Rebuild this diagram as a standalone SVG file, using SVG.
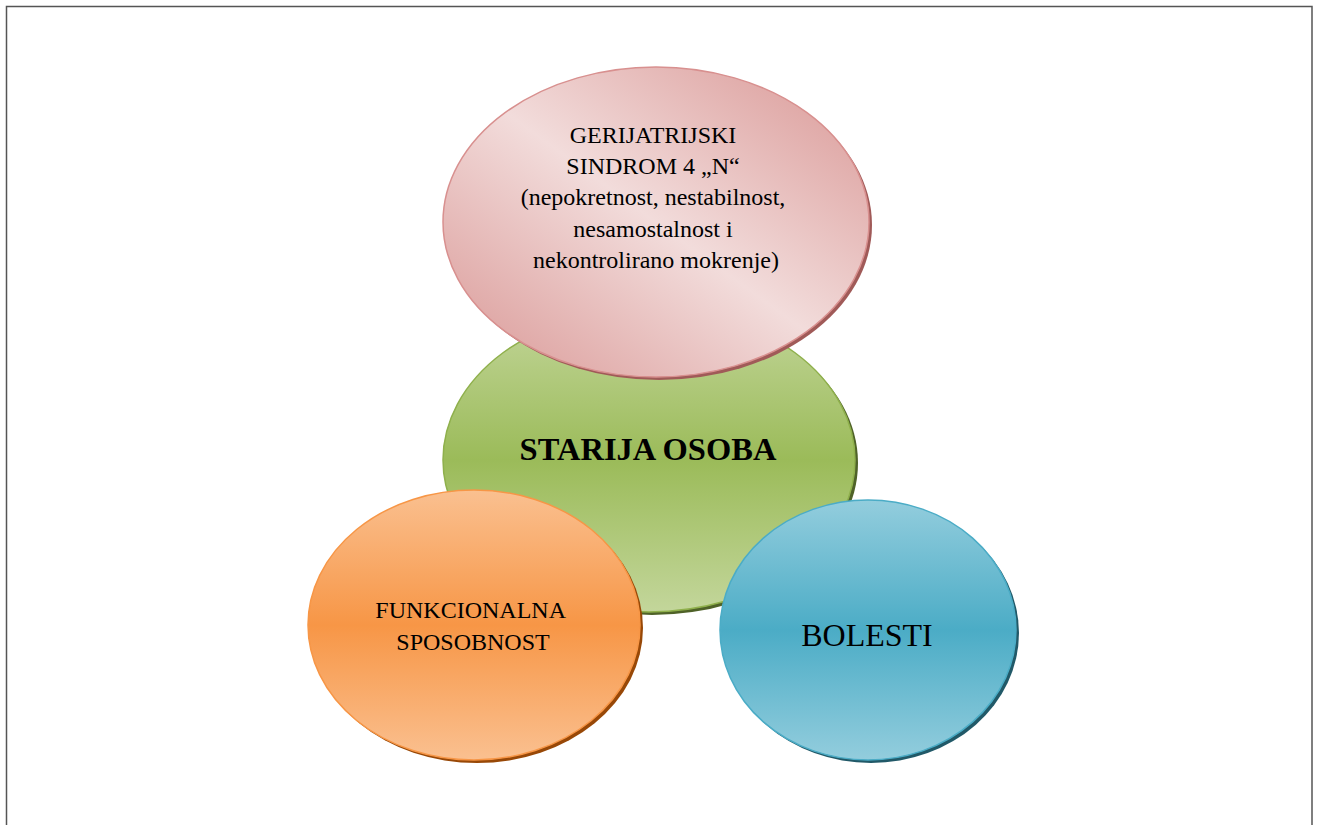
<svg xmlns="http://www.w3.org/2000/svg" width="1318" height="825" viewBox="0 0 1318 825">
<style>
.t{font-family:"Liberation Serif","Times New Roman",serif;fill:#000;text-anchor:middle}
.sh{stroke:none}
</style>
<defs>
<linearGradient id="gGreen" x1="0" y1="0" x2="0" y2="1">
<stop offset="0" stop-color="#c3d69b"/><stop offset="0.5" stop-color="#9bbb59"/><stop offset="1" stop-color="#c3d69b"/>
</linearGradient>
<linearGradient id="gOrange" x1="0" y1="0" x2="0" y2="1">
<stop offset="0" stop-color="#fac090"/><stop offset="0.5" stop-color="#f79646"/><stop offset="1" stop-color="#fac090"/>
</linearGradient>
<linearGradient id="gBlue" x1="0" y1="0" x2="0" y2="1">
<stop offset="0" stop-color="#93cddd"/><stop offset="0.5" stop-color="#4bacc6"/><stop offset="1" stop-color="#93cddd"/>
</linearGradient>
<linearGradient id="gPink" x1="1" y1="0" x2="0" y2="1">
<stop offset="0" stop-color="#d99694"/><stop offset="0.5" stop-color="#f2dcdb"/><stop offset="1" stop-color="#d99694"/>
</linearGradient>
</defs>
<rect x="6.5" y="6.5" width="1305.5" height="830" fill="#fff" stroke="#555" stroke-width="1.5"/>
<g id="starija-osoba">
<ellipse class="sh" cx="652" cy="463" rx="206" ry="152" fill="#4f6228"/>
<ellipse cx="649" cy="460" rx="206" ry="152" fill="url(#gGreen)" stroke="#8fb04c" stroke-width="1.5"/>
<text class="t" x="648" y="460" font-size="32.5" font-weight="bold">STARIJA OSOBA</text>
</g>
<g id="gerijatrijski-sindrom">
<ellipse class="sh" cx="659" cy="225" rx="213" ry="155" fill="#a05a58"/>
<ellipse cx="656" cy="222" rx="213" ry="155" fill="url(#gPink)" stroke="#d8908f" stroke-width="1.5"/>
<text class="t" font-size="24">
<tspan x="656" y="143">GERIJATRIJSKI</tspan>
<tspan x="656" y="174">SINDROM 4 „N“</tspan>
<tspan x="656" y="205">(nepokretnost, nestabilnost,</tspan>
<tspan x="656" y="237">nesamostalnost i</tspan>
<tspan x="656" y="268">nekontrolirano mokrenje)</tspan>
</text>
</g>
<g id="funkcionalna-sposobnost">
<ellipse class="sh" cx="477" cy="628" rx="166" ry="135" fill="#984807"/>
<ellipse cx="474" cy="625" rx="166" ry="135" fill="url(#gOrange)" stroke="#f79646" stroke-width="1.5"/>
<text class="t" font-size="24">
<tspan x="473" y="618">FUNKCIONALNA</tspan>
<tspan x="473" y="650">SPOSOBNOST</tspan>
</text>
</g>
<g id="bolesti">
<ellipse class="sh" cx="871" cy="633" rx="148" ry="130" fill="#215968"/>
<ellipse cx="868" cy="630" rx="148" ry="130" fill="url(#gBlue)" stroke="#4bacc6" stroke-width="1.5"/>
<text class="t" x="867" y="646" font-size="32">BOLESTI</text>
</g>
<g id="connectors"/>
</svg>
